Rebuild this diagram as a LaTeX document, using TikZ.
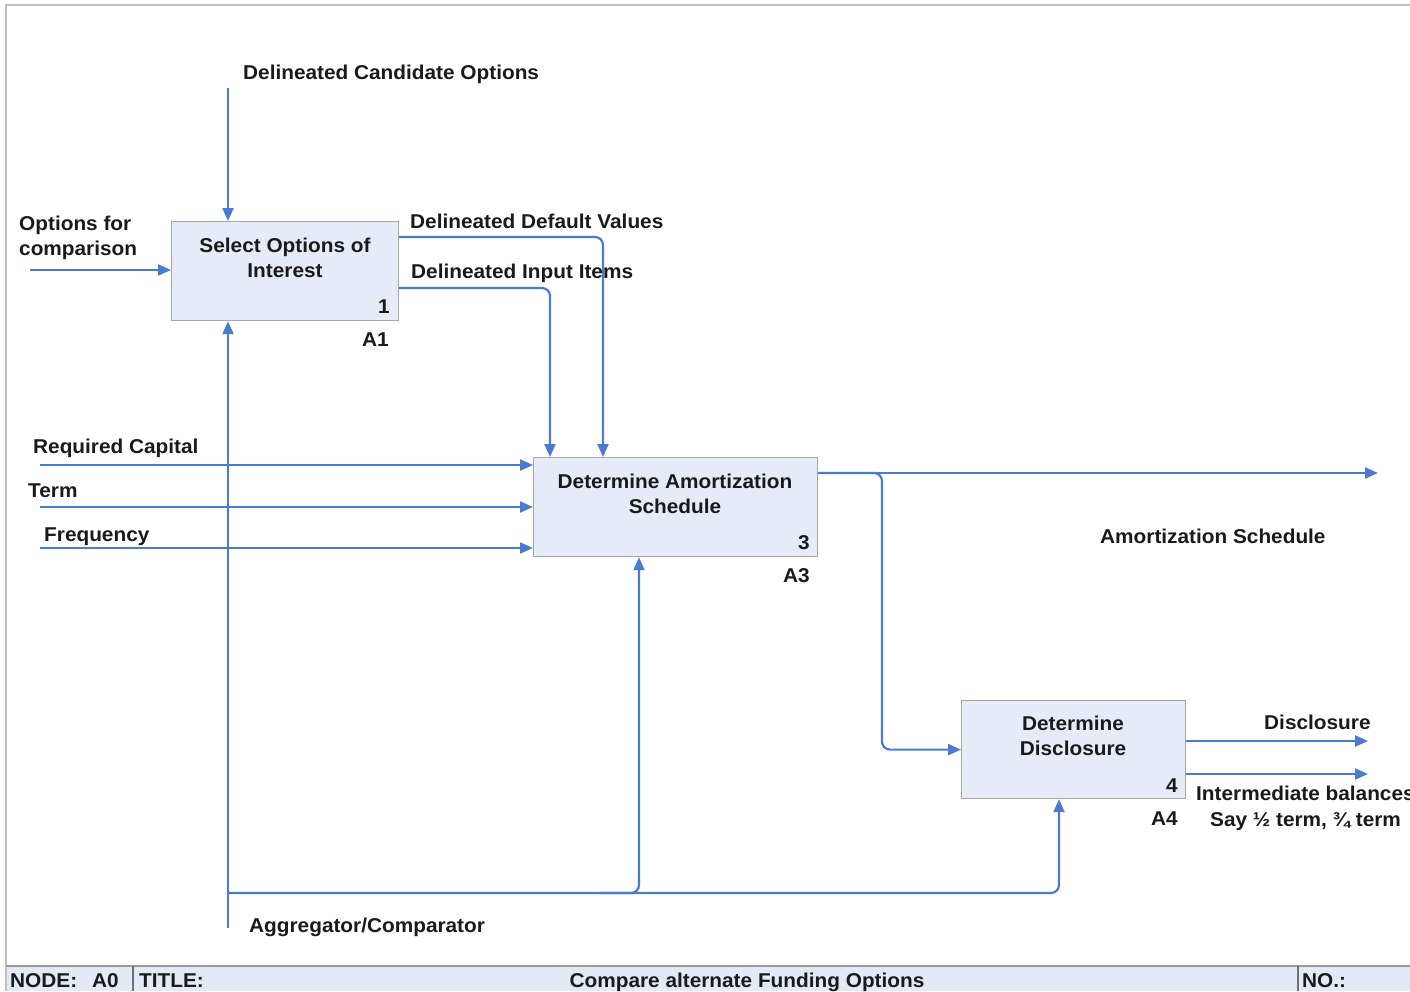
\documentclass[tikz,border=0pt]{standalone}
\usepackage{fontspec}
\setmainfont{Liberation Sans}[FakeStretch=1.04]
\usetikzlibrary{arrows.meta}
\definecolor{flow}{HTML}{4A7BD0}
\definecolor{boxfill}{HTML}{E6ECF7}
\definecolor{boxline}{HTML}{A6A6A6}
\definecolor{framec}{HTML}{BFBFBF}
\definecolor{footfill}{HTML}{E3EAF5}
\definecolor{ink}{HTML}{1A1A1A}
\begin{document}
\begin{tikzpicture}[x=1pt,y=-1pt,
  lbl/.style={font=\bfseries\fontsize{20}{25}\selectfont, text=ink, inner sep=0pt},
  func/.style={draw=boxline, fill=boxfill, line width=1.2pt, inner sep=0pt, anchor=north west},
  flowline/.style={draw=flow, line width=2.2pt},
  arr/.style={flowline, -{Triangle[length=13pt,width=11pt]}},
  rc/.style={rounded corners=8pt}
]
\useasboundingbox (0,0) rectangle (1410,991);
% frame and footer
\fill[white] (0,0) rectangle (1410,991);
\fill[footfill] (6,966) rectangle (1410,991);
\draw[framec, line width=2pt] (1410,5) -- (6,5) -- (6,991);
\draw[framec!80!black, line width=1.5pt] (6,966) -- (1410,966);
\draw[framec!60!black, line width=1.2pt] (133,966) -- (133,991);
\draw[framec!60!black, line width=1.2pt] (1298,966) -- (1298,991);
\node[lbl, anchor=base west] (fnode) at (10,987) {NODE:\hspace{15pt}A0};
\node[lbl, anchor=base west] (ftitle) at (139,987) {TITLE:};
\node[lbl, anchor=base] (fname) at (747,987) {Compare alternate Funding Options};
\node[lbl, anchor=base west] (fno) at (1302,987) {NO.:};

% function boxes
\node[func, minimum width=227pt, minimum height=99pt] (a1) at (171,221) {};
\node[func, minimum width=284pt, minimum height=99pt] (a3) at (533,457) {};
\node[func, minimum width=224pt, minimum height=98pt] (a4) at (961,700) {};

\node[lbl, anchor=north, align=center] (a1t) at (285,237.7) {Select Options of\\Interest};
\node[lbl, anchor=north, align=center] (a3t) at (675,473.7) {Determine Amortization\\Schedule};
\node[lbl, anchor=north, align=center] (a4t) at (1073,715.7) {Determine\\Disclosure};
\node[lbl, anchor=base east] (a1n) at (390,313) {1};
\node[lbl, anchor=base east] (a1id) at (389,346) {A1};
\node[lbl, anchor=base east] (a3n) at (810,549) {3};
\node[lbl, anchor=base east] (a3id) at (810,582) {A3};
\node[lbl, anchor=base east] (a4n) at (1178,792) {4};
\node[lbl, anchor=base east] (a4id) at (1178,825) {A4};

% connector end points
\coordinate (dco) at (228,88);
\coordinate (ocs) at (30,270);
\coordinate (rcap) at (40,465);
\coordinate (term) at (40,507);
\coordinate (freq) at (40,548);
\coordinate (agg) at (228,928);
\coordinate (aggT) at (228,893);
\coordinate (aggM) at (600,893);
\coordinate (asEnd) at (1378,473);
\coordinate (br) at (882,600);
\coordinate (discEnd) at (1368,741);
\coordinate (intEnd) at (1368,774);

% connectors
\draw[arr] (dco) -- (dco |- a1.north);
\draw[arr] (ocs) -- (ocs -| a1.west);
\draw[arr, rc] ([yshift=-16pt]a1.north east) -| ([xshift=70pt]a3.north west);
\draw[arr, rc] ([yshift=-67pt]a1.north east) -| ([xshift=17pt]a3.north west);
\draw[arr] (rcap) -- (rcap -| a3.west);
\draw[arr] (term) -- (term -| a3.west);
\draw[arr] (freq) -- (freq -| a3.west);
\draw[arr] (agg) -- (agg |- a1.south);
\draw[arr, rc] (aggT) -| ([xshift=106pt]a3.south west);
\draw[arr, rc] (aggM) -| ([xshift=98pt]a4.south west);
\draw[arr] ([yshift=-16pt]a3.north east) -- (asEnd);
\draw[arr, rc] ([yshift=-16pt]a3.north east) -| (br) |- (a4.west);
\draw[arr] ([yshift=-41pt]a4.north east) -- (discEnd);
\draw[arr] ([yshift=-74pt]a4.north east) -- (intEnd);

% labels
\node[lbl, anchor=base west] (ldco) at (243,79) {Delineated Candidate Options};
\node[lbl, anchor=north west, align=left] (locs) at (19,215.7) {Options for\\comparison};
\node[lbl, anchor=base west] (ldv) at (410,228) {Delineated Default Values};
\node[lbl, anchor=base west] (lii) at (411,278) {Delineated Input Items};
\node[lbl, anchor=base west] (lrc) at (33,453) {Required Capital};
\node[lbl, anchor=base west] (lterm) at (28,497) {Term};
\node[lbl, anchor=base west] (lfreq) at (44,541) {Frequency};
\node[lbl, anchor=base west] (las) at (1100,543) {Amortization Schedule};
\node[lbl, anchor=base west] (ldisc) at (1264,729) {Disclosure};
\node[lbl, anchor=base west] (lint) at (1196,800) {Intermediate balances};
\node[lbl, anchor=base west] (lsay) at (1210,826) {Say ½ term, ¾ term};
\node[lbl, anchor=base west] (lagg) at (249,932) {Aggregator/Comparator};
\end{tikzpicture}
\end{document}
